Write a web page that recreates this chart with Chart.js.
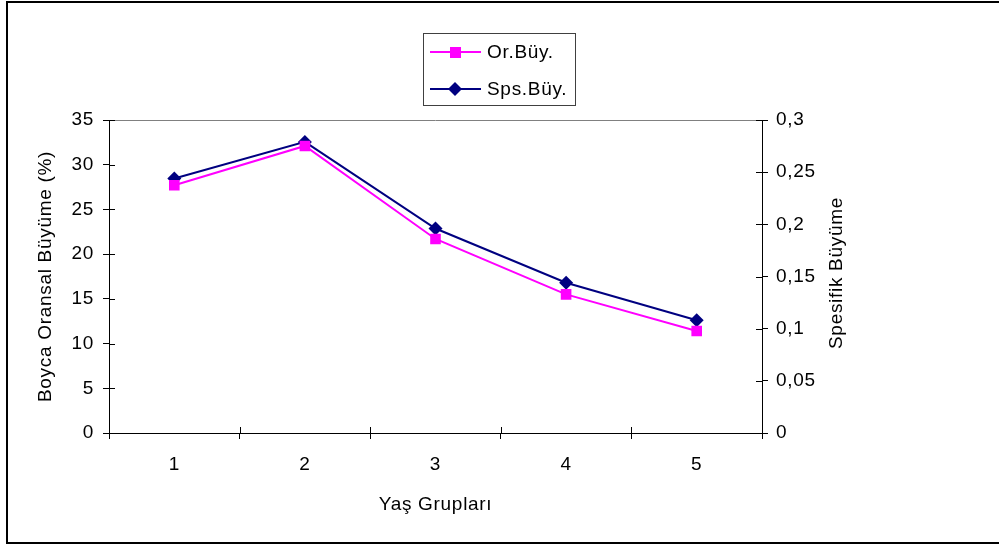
<!DOCTYPE html>
<html>
<head>
<meta charset="utf-8">
<script src="https://cdn.jsdelivr.net/npm/chart.js@4"></script>
<style>
  body { margin: 0; background: #fff; }
  canvas { display: block; }
</style>
</head>
<body>
<canvas id="myChart" width="999" height="546"></canvas>
<script>
// data
var categories = ["1", "2", "3", "4", "5"];
var orBuy = [27.7, 32.1, 21.7, 15.5, 11.4];
var spsBuy = [0.244, 0.279, 0.196, 0.144, 0.108];
var leftTicks = [0, 5, 10, 15, 20, 25, 30, 35];
var rightTicks = [0, 0.05, 0.1, 0.15, 0.2, 0.25, 0.3];

var FONT = "19px 'Liberation Sans', Arial, sans-serif";
Chart.defaults.font.family = "'Liberation Sans', Arial, sans-serif";
Chart.defaults.font.size = 19;
Chart.defaults.color = "#000";

// frame, plot top line, inner tick halves, right title and boxed legend
var excelLook = {
  id: "excelLook",
  beforeDraw: function (chart) {
    // the reference text is a bit loosely spaced
    chart.ctx.letterSpacing = "0.7px";
  },
  beforeDatasetsDraw: function (chart) {
    var ctx = chart.ctx;
    var a = chart.chartArea;
    ctx.save();
    ctx.strokeStyle = "#808080";
    ctx.lineWidth = 1;
    ctx.beginPath();
    ctx.moveTo(a.left, a.top + 0.5);
    ctx.lineTo(a.right, a.top + 0.5);
    ctx.stroke();

    // ticks cross the axis lines
    ctx.strokeStyle = "#000";
    ctx.beginPath();
    var yl = chart.scales.y;
    yl.ticks.forEach(function (t) {
      var y = Math.round(yl.getPixelForValue(t.value)) + 0.5;
      ctx.moveTo(a.left, y);
      ctx.lineTo(a.left + 6, y);
    });
    var yr = chart.scales.y1;
    yr.ticks.forEach(function (t) {
      var y = Math.round(yr.getPixelForValue(t.value)) + 0.5;
      ctx.moveTo(a.right, y);
      ctx.lineTo(a.right - 6, y);
    });
    var xs = chart.scales.x;
    for (var i = 0; i <= categories.length; i++) {
      var x = Math.round(xs.getPixelForValue(i - 0.5)) + 0.5;
      ctx.moveTo(x, a.bottom);
      ctx.lineTo(x, a.bottom - 6);
    }
    ctx.stroke();
    ctx.restore();
  },
  afterDraw: function (chart) {
    var ctx = chart.ctx;
    ctx.save();

    // outer frame
    ctx.strokeStyle = "#000";
    ctx.lineWidth = 2;
    ctx.strokeRect(7, 2, 998, 541);

    // right axis title, reading upward
    ctx.fillStyle = "#000";
    ctx.font = FONT;
    ctx.textAlign = "center";
    ctx.textBaseline = "middle";
    ctx.translate(837, 273);
    ctx.rotate(-Math.PI / 2);
    ctx.fillText("Spesifik Büyüme", 0, 0);
    ctx.restore();

    // legend
    ctx.save();
    ctx.strokeStyle = "#404040";
    ctx.lineWidth = 1;
    ctx.strokeRect(423.5, 33.5, 152, 72);
    chart.data.datasets.forEach(function (ds, i) {
      var y = 52 + i * 37;
      ctx.strokeStyle = ds.borderColor;
      ctx.lineWidth = 2;
      ctx.beginPath();
      ctx.moveTo(430, y);
      ctx.lineTo(481, y);
      ctx.stroke();
      ctx.fillStyle = ds.backgroundColor;
      if (ds.pointStyle === "rect") {
        ctx.fillRect(450, y - 5, 11, 11);
      } else {
        ctx.beginPath();
        ctx.moveTo(455, y - 7);
        ctx.lineTo(462, y);
        ctx.lineTo(455, y + 7);
        ctx.lineTo(448, y);
        ctx.closePath();
        ctx.fill();
      }
      ctx.fillStyle = "#000";
      ctx.font = FONT;
      ctx.textAlign = "left";
      ctx.textBaseline = "middle";
      ctx.fillText(ds.label, 487, y + 1);
    });
    ctx.restore();
  }
};

function commaNum(v) {
  return String(+v.toFixed(2)).replace(".", ",");
}

var ctx = document.getElementById("myChart");
var myChart = new Chart(ctx, {
  type: "line",
  data: {
    labels: categories,
    datasets: [
      {
        label: "Or.Büy.",
        data: orBuy,
        yAxisID: "y",
        borderColor: "#FF00FF",
        backgroundColor: "#FF00FF",
        borderWidth: 2,
        pointStyle: "rect",
        pointRadius: 7.5,
        pointBorderWidth: 0,
        tension: 0
      },
      {
        label: "Sps.Büy.",
        data: spsBuy,
        yAxisID: "y1",
        borderColor: "#000080",
        backgroundColor: "#000080",
        borderWidth: 2,
        pointStyle: "rectRot",
        pointRadius: 7,
        pointBorderWidth: 0,
        tension: 0
      }
    ]
  },
  options: {
    responsive: false,
    animation: false,
    devicePixelRatio: 1,
    events: [],
    layout: { padding: { left: 30, right: 147, top: 120, bottom: 26 } },
    plugins: {
      legend: { display: false },
      tooltip: { enabled: false }
    },
    scales: {
      x: {
        offset: true,
        grid: { offset: true, drawOnChartArea: false, tickLength: 6, color: "#000" },
        border: { color: "#000" },
        ticks: { padding: 14 },
        title: { display: true, text: "Yaş Grupları", padding: { top: 4, bottom: 4 } },
        afterFit: function (s) { s.height = 87; }
      },
      y: {
        position: "left",
        min: 0,
        max: 35,
        afterBuildTicks: function (s) {
          s.ticks = leftTicks.map(function (v) { return { value: v }; });
        },
        grid: { drawOnChartArea: false, tickLength: 6, color: "#000" },
        border: { color: "#000" },
        ticks: { padding: 9 },
        title: { display: true, text: "Boyca Oransal Büyüme (%)", padding: { top: 4, bottom: 4 } },
        afterFit: function (s) { s.width = 79; }
      },
      y1: {
        position: "right",
        min: 0,
        max: 0.3,
        afterBuildTicks: function (s) {
          s.ticks = rightTicks.map(function (v) { return { value: v }; });
        },
        grid: { drawOnChartArea: false, tickLength: 6, color: "#000" },
        border: { color: "#000" },
        ticks: { padding: 8, callback: function (v) { return commaNum(v); } },
        afterFit: function (s) { s.width = 90; }
      }
    }
  },
  plugins: [excelLook]
});
</script>
</body>
</html>
